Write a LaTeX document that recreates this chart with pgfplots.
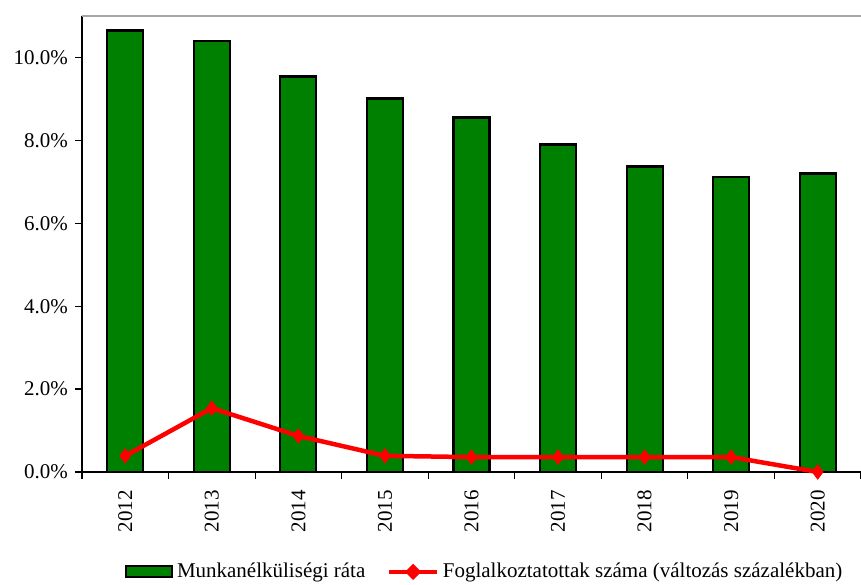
\documentclass[border=0pt]{standalone}
\usepackage{fontspec}
\setmainfont{Liberation Serif}
\usepackage{pgfplots}
\pgfplotsset{compat=1.18}
\definecolor{bargreen}{HTML}{008000}
\pgfplotsset{
  barleg/.style={legend image code/.code={\draw[##1, line width=1.8pt] (0pt,-5.5pt) rectangle (46pt,5.5pt);}},
  lineleg/.style={legend image code/.code={\draw[red, line width=3.5pt] (0pt,0pt) -- (48pt,0pt);
    \fill[red] (24pt,5pt) -- (29pt,0pt) -- (24pt,-5pt) -- (19pt,0pt) -- cycle;}},
}
\begin{document}
\fontsize{21}{25}\selectfont
\begin{tikzpicture}
\begin{axis}[
  name=ax,
  scale only axis,
  width=779pt, height=456pt,
  xmin=-0.5, xmax=8.5,
  ymin=0, ymax=11,
  axis x line*=bottom,
  axis y line*=left,
  axis line style={black, line width=1.2pt},
  tick align=outside,
  xtick={0,...,8},
  xticklabels={2012,2013,2014,2015,2016,2017,2018,2019,2020},
  major x tick style={draw=none},
  minor xtick={-0.5,0.5,...,8.5},
  minor tick length=7pt,
  minor x tick style={black, line width=1.2pt},
  x tick label style={rotate=90, anchor=east, xshift=-4pt},
  ytick={0,2,4,6,8,10},
  yticklabels={0.0\%,2.0\%,4.0\%,6.0\%,8.0\%,10.0\%},
  major tick length=7pt,
  y tick style={black, line width=1.2pt},
  /pgf/number format/assume math mode=true,
  tick label style={font=\fontsize{21}{25}\selectfont},
  legend style={draw=none, at={(0.517,-0.219)}, anchor=center, legend columns=2,
    font=\fontsize{21}{25}\selectfont, inner sep=0pt,
    /tikz/every odd column/.append style={column sep=2pt},
    /tikz/every even column/.append style={column sep=20pt}},
  legend cell align=left,
  clip=false,
]
\addplot[ybar, bar width=36pt, fill=bargreen, draw=black, line width=2.2pt, barleg]
  coordinates {
  (0,10.65) (1,10.39) (2,9.54) (3,9.01) (4,8.55) (5,7.90) (6,7.37) (7,7.11) (8,7.20)};
\addlegendentry{Munkanélküliségi ráta}
\addplot[red, line width=4.5pt, mark=diamond*, mark size=7pt, mark options={fill=red, line width=1pt}, lineleg]
  coordinates {
  (0,0.39) (1,1.54) (2,0.87) (3,0.39) (4,0.36) (5,0.36) (6,0.36) (7,0.36) (8,0.0)};
\addlegendentry{Foglalkoztatottak száma (változás százalékban)}
\end{axis}
\draw[gray!70, line width=1.5pt] (ax.north west) -- (ax.north east);
\pgfresetboundingbox
\path[use as bounding box] (ax.south west) ++(-82pt,-112pt) rectangle ++(861pt,584pt);
\end{tikzpicture}
\end{document}
